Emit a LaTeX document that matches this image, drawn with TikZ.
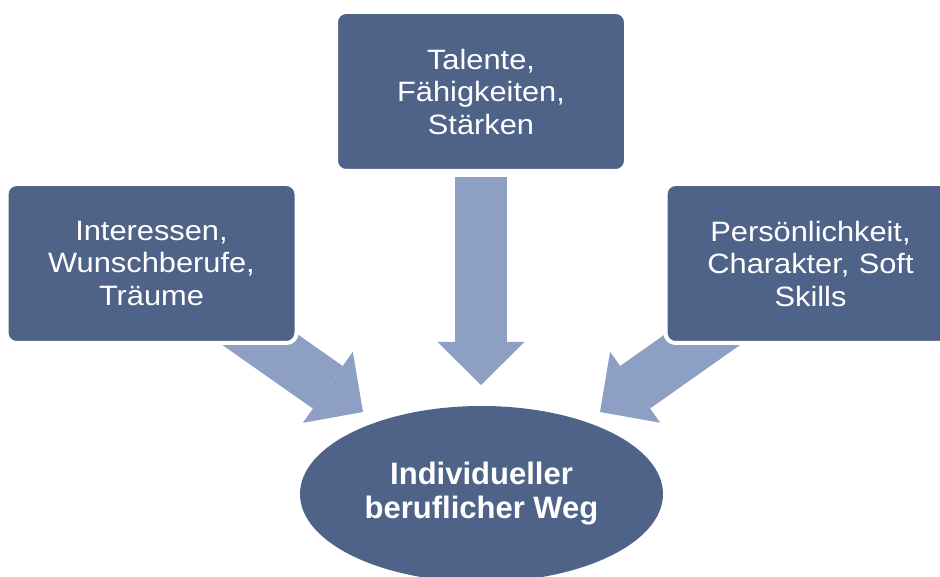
\documentclass[tikz,border=0pt]{standalone}
\usepackage{fontspec}
\setmainfont{Liberation Sans}
\newfontfamily\boxfont{Liberation Sans}[FakeStretch=1.1]
\usetikzlibrary{shapes, arrows.meta, positioning, backgrounds}
\definecolor{boxblue}{RGB}{79,99,137}
\definecolor{arrowblue}{RGB}{141,160,196}

\begin{document}
\begin{tikzpicture}[
      x=1pt, y=1pt,
      every node/.style={text=white},
      factor/.style={rectangle, rounded corners=10pt, fill=boxblue, draw=white, line width=4pt, minimum width=290pt, minimum height=159pt, text width=275pt, align=center, font=\boxfont\fontsize{28}{32.5}\selectfont},
      goal/.style={ellipse, fill=boxblue, minimum width=363pt, minimum height=176pt, align=center, font=\bfseries\fontsize{31}{34}\selectfont},
      bigarrow/.style={draw=arrowblue, line width=52pt, -{Triangle[length=43pt, width=87pt, line width=0pt]}}
    ]
    \useasboundingbox (0,0) rectangle (940,576);
    \clip (0,0) rectangle (940,576);
    % the three sources
    \node[factor] (talente) at (481,484.5) {Talente,\\ Fähigkeiten,\\ Stärken};
    \node[factor] (interessen) at (151.5,312.5) {Interessen,\\ Wunschberufe,\\ Träume};
    \node[factor] (persoenlichkeit) at (810.5,312.5) {Persönlichkeit,\\ Charakter, Soft\\ Skills};
    % target
    \node[goal] (weg) at (481.5,82) {Individueller\\ beruflicher Weg};
    % arrow tips
    \coordinate (tipM) at (481,191);
    \coordinate (tipL) at (363,164);
    \coordinate (tipR) at (600,164);
    \begin{scope}[on background layer]
      \draw[bigarrow] ([yshift=-4pt]talente.south) -- (tipM);
      \draw[bigarrow] (interessen.center) -- (tipL);
      \draw[bigarrow] (persoenlichkeit.center) -- (tipR);
    \end{scope}
\end{tikzpicture}
\end{document}
